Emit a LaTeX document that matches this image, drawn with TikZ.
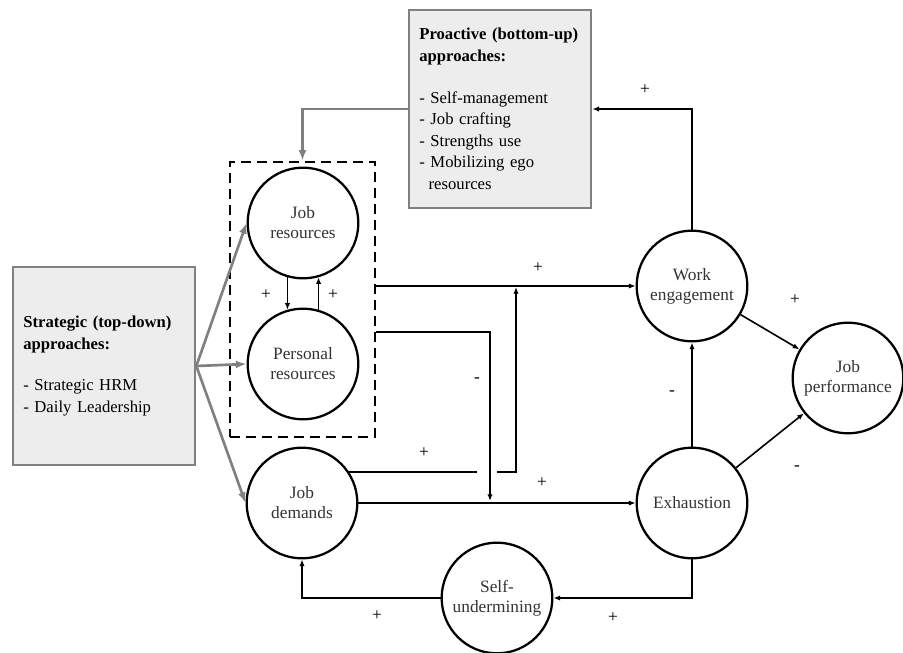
\documentclass[tikz,border=0pt]{standalone}
\usepackage{fontspec}
\setmainfont{Liberation Serif}
\usetikzlibrary{arrows.meta}

\begin{document}
\begin{tikzpicture}
	[x=0.75pt, y=-0.75pt,
		factor/.style		={circle
									, draw=black
									, line width=1.7pt
									, minimum size=83pt
									, inner sep=0pt
									, align=center
									, text=black!80
									, font=\fontsize{13}{15}\selectfont
									},
		approach/.style	={rectangle
									, draw=black!50
									, line width=1.5pt
									, fill=black!7
									, minimum width=137pt
									, minimum height=148pt
									, text width=121pt
									, inner xsep=8pt
									, align=left
									, font=\fontsize{12.5}{16.2}\selectfont
									},
		group/.style		={rectangle
									, draw=black
									, line width=2pt
									, dash pattern=on 7.5pt off 4.5pt
									, minimum width=108.75pt
									, minimum height=206.25pt
									},
		line/.style		 	={draw
									, line width=1.2pt
									, -{Latex[length=5pt,width=4pt]}
									},
		grayline/.style	={draw
									, black!50
									, line width=2pt
									, -{Latex[length=8pt,width=6pt]}
									},
		sign/.style			={inner sep=0pt
									, font=\fontsize{13}{15}\selectfont
									}
	]
\useasboundingbox (0,0) rectangle (903,653);

% approaches
\node [approach] (strategic) at (104,366)
	{\textbf{Strategic (top-down)}\\ \textbf{approaches:}\\[15pt]
	 - Strategic HRM\\ - Daily Leadership};
\node [approach] (proactive) at (500,109)
	{\textbf{Proactive (bottom-up)}\\ \textbf{approaches:}\\[15pt]
	 - Self-management\\ - Job crafting\\ - Strengths use\\
	 - Mobilizing ego\\ \hspace*{7pt}resources};

% resources
\node [group] (resources) at (302.5,299.5) {};
\node [factor] (job resources)			at (303,223) {Job\\resources};
\node [factor] (personal resources)	at (303,364) {Personal\\resources};

% demands and outcomes
\node [factor] (job demands)				at (302,503) {Job\\demands};
\node [factor] (work engagement)		at (692,286) {Work\\engagement};
\node [factor] (exhaustion)					at (692,503) {Exhaustion};
\node [factor] (job performance)		at (848,378) {Job\\performance};
\node [factor] (self undermining)		at (497,598) {Self-\\undermining};

% bends and gaps
\coordinate (buffer bend)	at (490,332);
\coordinate (buffer end)	at (490,501);
\coordinate (gap left)		at (477,472);
\coordinate (gap right)		at (497,472);
\coordinate (boost end)		at (516,287);

\begin{scope}[every path/.style=grayline]
	\path					(strategic.east)	-- (job resources.west);
	\path					(strategic.east)	-- (personal resources.west);
	\path					(strategic.east)	-- (job demands.west);
	\path					(proactive)				-| (resources);
\end{scope}

\begin{scope}[every path/.style=line]
	\path					(job resources.254)			-- (personal resources.106);
	\path					(personal resources.74)	-- (job resources.286);
	\path					(resources.east |- work engagement) -- (work engagement);
	\path					(resources.east |- buffer bend) -- (buffer bend) -- (buffer end);
	\path	[-]			(gap left -| job demands.34) -- (gap left);
	\path					(gap right)				-| (boost end);
	\path					(job demands)			-- (exhaustion);
	\path					(exhaustion)			-- (work engagement);
	\path					(work engagement)	-- (job performance);
	\path					(exhaustion)			-- (job performance);
	\path					(work engagement)	|- (proactive);
	\path					(exhaustion)			|- (self undermining);
	\path					(self undermining) -| (job demands);
\end{scope}

% signs
\node [sign] (sign jr)		at (266,295) {+};
\node [sign] (sign pr)		at (333,295) {+};
\node [sign] (sign res)		at (538,268) {+};
\node [sign] (sign buf)		at (477,380) {-};
\node [sign] (sign boost)	at (424,453) {+};
\node [sign] (sign dem)		at (542,483) {+};
\node [sign] (sign exh)		at (672,393) {-};
\node [sign] (sign eng)		at (795,300) {+};
\node [sign] (sign perf)	at (797,468) {-};
\node [sign] (sign under)	at (613,618) {+};
\node [sign] (sign back)	at (377,616) {+};
\node [sign] (sign pro)		at (645,90)  {+};
\end{tikzpicture}
\end{document}
